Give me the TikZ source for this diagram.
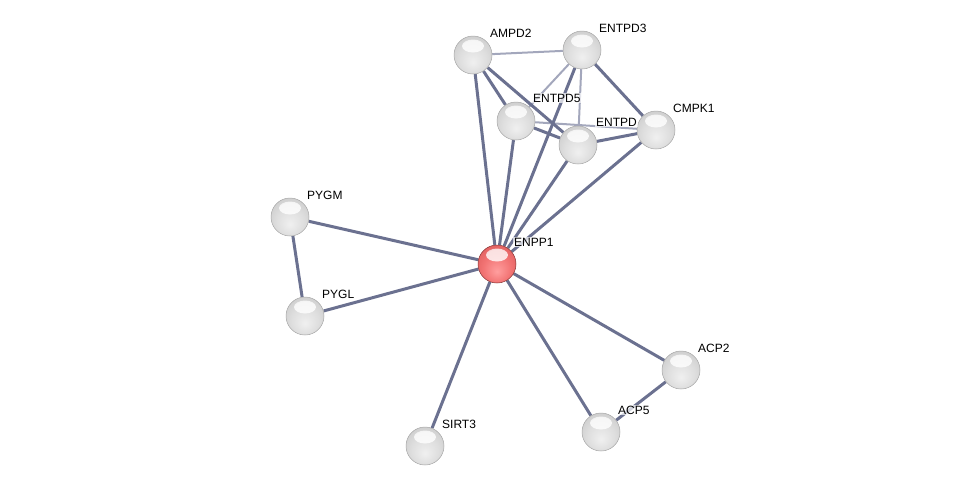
\documentclass[tikz,border=0pt]{standalone}
\usepackage{fontspec}
\setmainfont{Liberation Sans}
\usetikzlibrary{backgrounds,fadings}
\definecolor{edgec}{HTML}{6B7190}
\definecolor{edgelt}{HTML}{A3A7BC}
\pgfdeclareradialshading{greysphere}{\pgfpoint{0bp}{-10bp}}{%
  color(0bp)=(gray!12); color(18bp)=(gray!26); color(32bp)=(gray!40);
  color(44bp)=(gray!55); color(50bp)=(gray!72)}
\pgfdeclareradialshading{redsphere}{\pgfpoint{0bp}{-10bp}}{%
  color(0bp)=(red!38!white); color(18bp)=(red!52!white!95!black); color(32bp)=(red!58!white!88!black);
  color(44bp)=(red!60!white!75!black); color(50bp)=(red!60!black)}
\tikzset{
  gloss/.style={path picture={\fill[white, opacity=0.8, path fading=circle with fuzzy edge 20 percent]
     ([yshift=9pt]path picture bounding box.center) ellipse (11pt and 6.5pt);}},
  prot/.style={circle, minimum size=38pt, inner sep=0pt, shading=greysphere, draw=gray!70, line width=0.5pt, gloss},
  hub/.style={prot, shading=redsphere, draw=red!40!black!80},
  lbl/.style={anchor=west, inner sep=1pt, font=\fontsize{12}{14}\selectfont, fill=white, fill opacity=0.7, text opacity=1},
  edge/.style={draw=edgec, line width=3pt},
  weak/.style={draw=edgelt, line width=2pt},
}
\begin{document}
\begin{tikzpicture}[x=1pt, y=-1pt]
\useasboundingbox (0,0) rectangle (975,491);
\node[prot] (AMPD2) at (473,55) {};
\node[prot] (ENTPD3) at (582,50) {};
\node[prot] (ENTPD5) at (516,121) {};
\node[prot] (ENTPD6) at (578,145) {};
\node[prot] (CMPK1) at (656,130) {};
\node[prot] (PYGM) at (290,217) {};
\node[prot] (PYGL) at (305,316) {};
\node[hub] (ENPP1) at (497,264) {};
\node[prot] (ACP2) at (681,370) {};
\node[prot] (ACP5) at (601,432) {};
\node[prot] (SIRT3) at (425,446) {};
\begin{pgfonlayer}{background}
\draw[weak] (AMPD2) -- (ENTPD3);
\draw[weak] (ENTPD3) -- (ENTPD5);
\draw[weak] (ENTPD3) -- (ENTPD6);
\draw[weak] (ENTPD5) -- (CMPK1);
\draw[edge] (AMPD2) -- (ENTPD5);
\draw[edge] (AMPD2) -- (ENTPD6);
\draw[edge] (AMPD2) -- (ENPP1);
\draw[edge] (ENTPD3) -- (CMPK1);
\draw[edge] (ENTPD3) -- (ENPP1);
\draw[edge] (ENTPD5) -- (ENTPD6);
\draw[edge] (ENTPD5) -- (ENPP1);
\draw[edge] (ENTPD6) -- (CMPK1);
\draw[edge] (ENTPD6) -- (ENPP1);
\draw[edge] (CMPK1) -- (ENPP1);
\draw[edge] (PYGM) -- (ENPP1);
\draw[edge] (PYGM) -- (PYGL);
\draw[edge] (PYGL) -- (ENPP1);
\draw[edge] (ENPP1) -- (SIRT3);
\draw[edge] (ENPP1) -- (ACP5);
\draw[edge] (ENPP1) -- (ACP2);
\draw[edge] (ACP2) -- (ACP5);
\end{pgfonlayer}
\node[lbl] (lAMPD2) at ([shift={(16,-22)}]AMPD2.center) {AMPD2};
\node[lbl] (lENTPD3) at ([shift={(16,-22)}]ENTPD3.center) {ENTPD3};
\node[lbl] (lENTPD5) at ([shift={(16,-23)}]ENTPD5.center) {ENTPD5};
\node[lbl] (lENTPD6) at ([shift={(17,-23)}]ENTPD6.center) {ENTPD};
\node[lbl] (lCMPK1) at ([shift={(16,-22)}]CMPK1.center) {CMPK1};
\node[lbl] (lPYGM) at ([shift={(16,-22)}]PYGM.center) {PYGM};
\node[lbl] (lPYGL) at ([shift={(16,-22)}]PYGL.center) {PYGL};
\node[lbl] (lENPP1) at ([shift={(16,-22)}]ENPP1.center) {ENPP1};
\node[lbl] (lACP2) at ([shift={(16,-22)}]ACP2.center) {ACP2};
\node[lbl] (lACP5) at ([shift={(16,-22)}]ACP5.center) {ACP5};
\node[lbl] (lSIRT3) at ([shift={(16,-22)}]SIRT3.center) {SIRT3};
\end{tikzpicture}
\end{document}
